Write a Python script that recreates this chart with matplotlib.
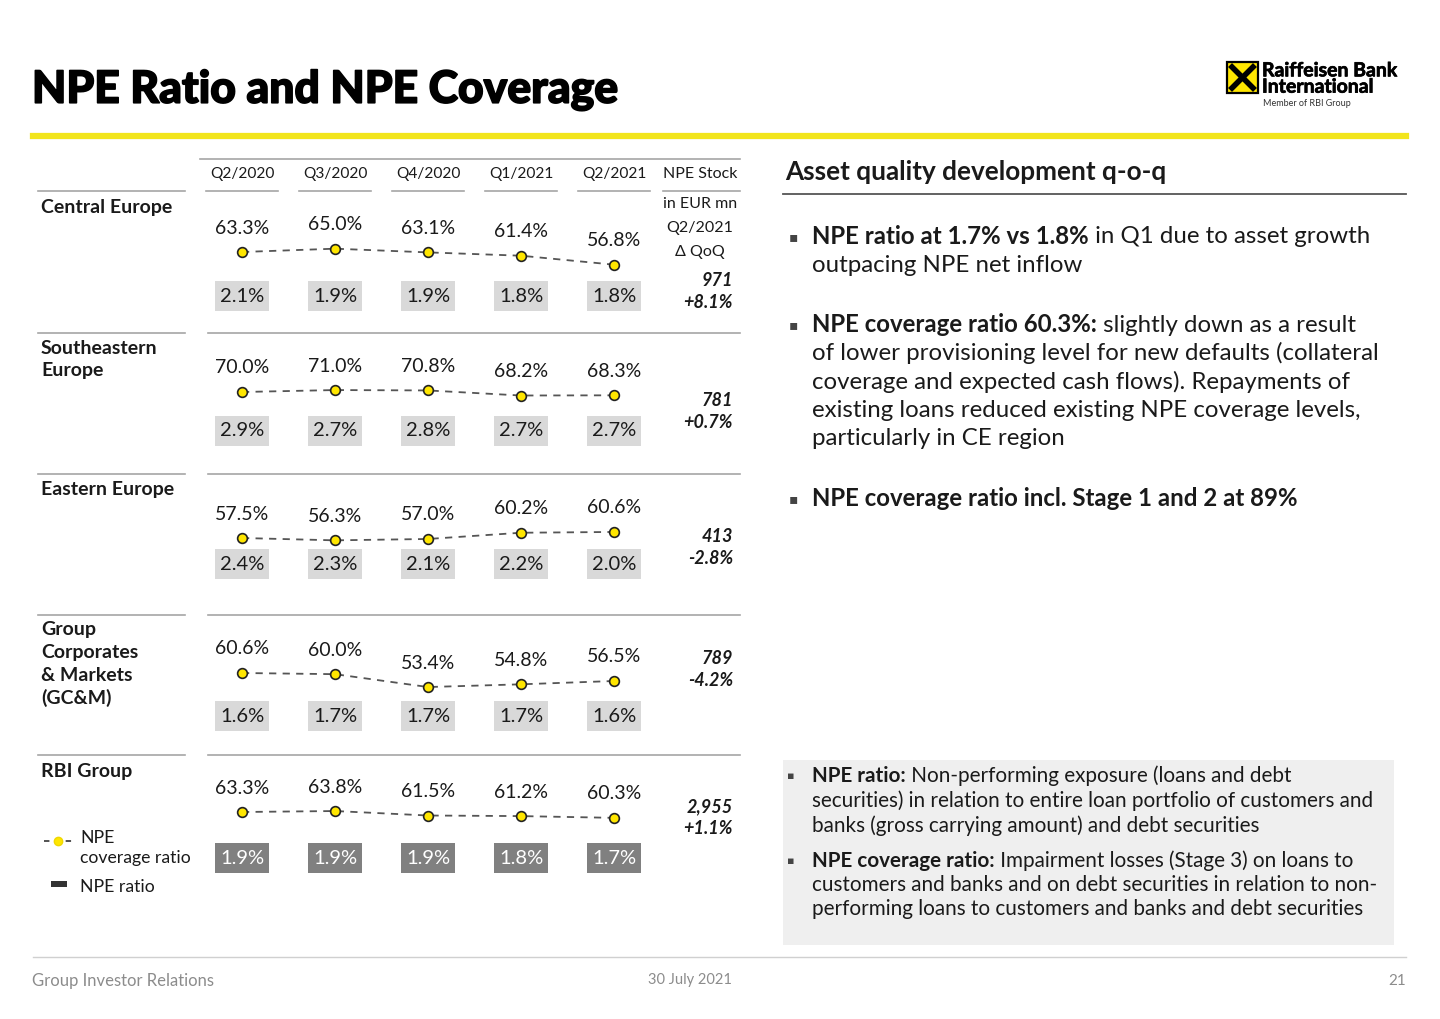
import matplotlib
matplotlib.use('Agg')
import matplotlib.pyplot as plt
from matplotlib import transforms
from matplotlib.patches import Rectangle
from matplotlib.lines import Line2D
import matplotlib.patheffects as pe

# ---------------- data ----------------
quarters = ['Q2/2020', 'Q3/2020', 'Q4/2020', 'Q1/2021', 'Q2/2021']
regions = ['Central Europe', 'Southeastern\nEurope', 'Eastern Europe',
           'Group\nCorporates\n& Markets\n(GC&M)', 'RBI Group']
coverage_ce = [63.3, 65.0, 63.1, 61.4, 56.8]
coverage_see = [70.0, 71.0, 70.8, 68.2, 68.3]
coverage_ee = [57.5, 56.3, 57.0, 60.2, 60.6]
coverage_gcm = [60.6, 60.0, 53.4, 54.8, 56.5]
coverage_rbi = [63.3, 63.8, 61.5, 61.2, 60.3]
ratio_ce = [2.1, 1.9, 1.9, 1.8, 1.8]
ratio_see = [2.9, 2.7, 2.8, 2.7, 2.7]
ratio_ee = [2.4, 2.3, 2.1, 2.2, 2.0]
ratio_gcm = [1.6, 1.7, 1.7, 1.7, 1.6]
ratio_rbi = [1.9, 1.9, 1.9, 1.8, 1.7]
npe_stock = ['971', '781', '413', '789', '2,955']
npe_qoq = ['+8.1%', '+0.7%', '-2.8%', '-4.2%', '+1.1%']

coverages = [coverage_ce, coverage_see, coverage_ee, coverage_gcm, coverage_rbi]
ratios = [ratio_ce, ratio_see, ratio_ee, ratio_gcm, ratio_rbi]

# ---------------- layout (pixels) ----------------
W, H = 1440, 1019
BODY = ['Lato', 'DejaVu Sans']
plt.rcParams['font.family'] = BODY
TXT = '#1a1a1a'

fig = plt.figure(figsize=(14.4, 10.19), dpi=100)
fig.patch.set_facecolor('white')
overlay = fig.add_axes([0, 0, 1, 1])
overlay.axis('off')
overlay.set_xlim(0, 1)
overlay.set_ylim(0, 1)


def fx(x):
    return x / W


def fy(y):
    return 1 - y / H


def T(x, y, s, **kw):
    kw.setdefault('va', 'center')
    kw.setdefault('color', TXT)
    return overlay.text(fx(x), fy(y), s, transform=fig.transFigure, **kw)


def HL(x0, x1, y, color='#a6a6a6', lw=1.2, **kw):
    overlay.add_artist(Line2D([fx(x0), fx(x1)], [fy(y), fy(y)], color=color,
                              lw=lw, transform=fig.transFigure, **kw))


def rich(x, y, parts, fs):
    t = T(x, y, parts[0][0], fontsize=fs, fontweight=parts[0][1], ha='left')
    for s, w in parts[1:]:
        t = overlay.annotate(s, xy=(1, 0.5), xycoords=t, ha='left', va='center',
                             fontsize=fs, fontweight=w, color=TXT)
    return t


# title
T(32, 90, 'NPE Ratio and NPE Coverage', fontsize=32, fontweight='black',
  ha='left', color='black',
  path_effects=[pe.withStroke(linewidth=1.2, foreground='black')])
HL(33, 1406, 136, color='#f2e51c', lw=4.5)

# logo
overlay.add_artist(Rectangle((fx(1227), fy(93)), 31 / W, 31 / H, fc='#ffe600',
                             ec='black', lw=1.6, transform=fig.transFigure))
overlay.add_artist(Line2D([fx(1232), fx(1253)], [fy(67), fy(88)], color='black',
                          lw=4, transform=fig.transFigure))
overlay.add_artist(Line2D([fx(1253), fx(1232)], [fy(67), fy(88)], color='black',
                          lw=4, transform=fig.transFigure))
T(1262, 79, 'Raiffeisen Bank\nInternational', fontsize=14, fontweight='bold', ha='left',
  color='black', linespacing=0.95,
  path_effects=[pe.withStroke(linewidth=0.5, foreground='black')])
T(1263, 104, 'Member of RBI Group', fontsize=6.5, ha='left', color='#333333')

# table header
xc = [242 + 93 * i for i in range(5)]
HL(200, 740, 159)
for i, q in enumerate(quarters):
    T(xc[i], 174, q, fontsize=11.2, ha='center')
    HL(xc[i] - 36, xc[i] + 36, 191)
T(700, 174, 'NPE Stock', fontsize=11.5, ha='center')
HL(663, 740, 191)
HL(38, 185, 191)
T(700, 204, 'in EUR mn', fontsize=11.5, ha='center')
T(700, 228, 'Q2/2021', fontsize=11.5, ha='center')
T(700, 252, 'Δ QoQ', fontsize=11.5, ha='center')
for y in [333, 474, 615, 755]:
    HL(38, 185, y)
    HL(208, 740, y)

# rows
label_y = [208, 348, 490, 630, 772]
anchor_y = [252, 392, 538, 673, 812]
box_y = [296, 431, 564, 716, 858]
stock_y = [281, 401, 537, 659, 807]
box_fc = ['#d9d9d9'] * 4 + ['#808080']
box_tc = [TXT] * 4 + ['white']
SCALE = 1.95  # px per percentage point

for r in range(5):
    for k, line in enumerate(regions[r].split('\n')):
        T(41, label_y[r] + 22.7 * k, line, fontsize=14, fontweight='bold', ha='left')
    ay = anchor_y[r]
    ax = fig.add_axes([fx(195.5), fy(ay + 40), 465 / W, 80 / H])
    ax.axis('off')
    v0 = coverages[r][0]
    ax.set_xlim(-0.5, 4.5)
    ax.set_ylim(v0 - 40 / SCALE, v0 + 40 / SCALE)
    ax.plot(range(5), coverages[r], ls=(0, (4, 3.5)), color='#555555', lw=1.3,
            marker='o', ms=7, mfc='#ffe600', mec='#222222', mew=1.2, clip_on=False)
    trans = transforms.blended_transform_factory(ax.transData, fig.transFigure)
    for i, v in enumerate(coverages[r]):
        ax.annotate(f'{v:.1f}%', (i, v), xytext=(0, 24), textcoords='offset pixels',
                    ha='center', va='center', fontsize=14, color=TXT,
                    annotation_clip=False)
        ax.add_patch(Rectangle((i - 27 / 93, fy(box_y[r] + 15)), 54 / 93, 30 / H,
                               transform=trans, fc=box_fc[r], ec='none', clip_on=False))
        ax.text(i, fy(box_y[r]), f'{ratios[r][i]:.1f}%', transform=trans, ha='center',
                va='center', fontsize=14.5, color=box_tc[r], clip_on=False)
    T(733, stock_y[r], npe_stock[r], fontsize=13, fontweight='bold', style='italic', ha='right')
    T(733, stock_y[r] + 21, npe_qoq[r], fontsize=13, fontweight='bold', style='italic', ha='right')

# legend
overlay.add_artist(Line2D([fx(44), fx(76)], [fy(841), fy(841)], ls=(0, (3, 3)),
                          color='#444444', lw=1.3, transform=fig.transFigure))
overlay.add_artist(Line2D([fx(58)], [fy(841)], marker='o', ms=6, mfc='#ffe600',
                          mec='#f0d800', transform=fig.transFigure))
T(80, 838, 'NPE', fontsize=12.7, ha='left')
T(80, 858, 'coverage ratio', fontsize=12.7, ha='left')
overlay.add_artist(Rectangle((fx(51), fy(887)), 16 / W, 6 / H, fc='#333333', ec='none',
                             transform=fig.transFigure))
T(80, 887, 'NPE ratio', fontsize=12.7, ha='left')

# right panel
T(785, 172, 'Asset quality development q-o-q', fontsize=18.8, fontweight='bold', ha='left')
HL(783, 1406, 194, color='#555555', lw=1.3)


def bullet(x, y, fs=10):
    T(x, y, '▪', fontsize=fs, ha='center', color='#444444', family=['DejaVu Sans'])


FS = 17.3
bullet(793, 237)
rich(812, 237, [('NPE ratio at 1.7% vs 1.8%', 'bold'), (' in Q1 due to asset growth', 'normal')], FS)
T(812, 265, 'outpacing NPE net inflow', fontsize=FS, ha='left')

bullet(793, 325)
rich(812, 325, [('NPE coverage ratio 60.3%:', 'bold'), (' slightly down as a result', 'normal')], FS)
for k, s in enumerate(['of lower provisioning level for new defaults (collateral',
                       'coverage and expected cash flows). Repayments of',
                       'existing loans reduced existing NPE coverage levels,',
                       'particularly in CE region']):
    T(812, 353 + 28.6 * k, s, fontsize=FS, ha='left')

bullet(793, 499)
T(812, 499, 'NPE coverage ratio incl. Stage 1 and 2 at 89%', fontsize=FS,
  fontweight='bold', ha='left')

overlay.add_artist(Rectangle((fx(783), fy(945)), 611 / W, 185 / H, fc='#efefef',
                             ec='none', transform=fig.transFigure, zorder=0))
FS2 = 14.9
bullet(791, 776, 8)
rich(812, 776, [('NPE ratio:', 'bold'), (' Non-performing exposure (loans and debt', 'normal')], FS2)
T(812, 801, 'securities) in relation to entire loan portfolio of customers and', fontsize=FS2, ha='left')
T(812, 826, 'banks (gross carrying amount) and debt securities', fontsize=FS2, ha='left')
bullet(791, 861, 8)
rich(812, 861, [('NPE coverage ratio:', 'bold'), (' Impairment losses (Stage 3) on loans to', 'normal')], FS2)
T(812, 885, 'customers and banks and on debt securities in relation to non-', fontsize=FS2, ha='left')
T(812, 909, 'performing loans to customers and banks and debt securities', fontsize=FS2, ha='left')

# footer
HL(33, 1406, 957, color='#d0d0d0', lw=1)
T(32, 981, 'Group Investor Relations', fontsize=12, color='#8c8c8c', ha='left')
T(690, 980, '30 July 2021', fontsize=10.5, color='#8c8c8c', ha='center')
T(1406, 981, '21', fontsize=11, color='#8c8c8c', ha='right')

fig.savefig('out.png', dpi=100, facecolor='white')
